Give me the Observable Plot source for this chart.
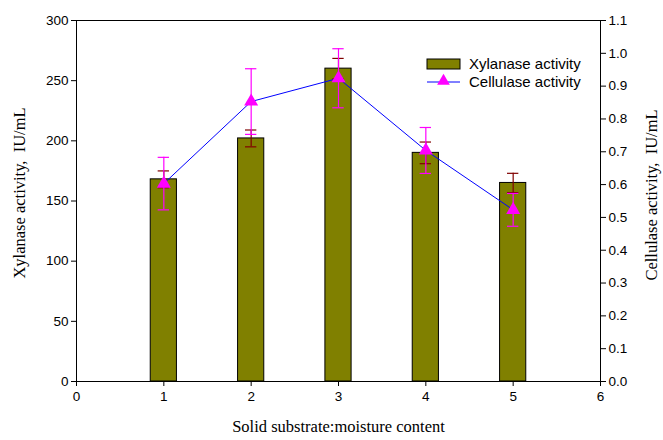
<!DOCTYPE html>
<html>
<head>
<meta charset="utf-8">
<script src="https://cdn.jsdelivr.net/npm/d3@7"></script>
<script src="https://cdn.jsdelivr.net/npm/@observablehq/plot@0.6"></script>
<style>
  html, body { margin: 0; padding: 0; background: #fff; }
</style>
</head>
<body>
<div id="chart"></div>
<script>
// ---- data ----
const ratios = [1, 2, 3, 4, 5];
const xylanase = [168, 202, 260, 190, 165];
const xylanaseErr = [7, 7, 8.5, 9, 8];
const cellulase = [0.603, 0.853, 0.924, 0.704, 0.523];
const cellulaseErr = [0.08, 0.10, 0.09, 0.07, 0.05];
const xTicks = [0, 1, 2, 3, 4, 5, 6];
const yLeftTicks = [0, 50, 100, 150, 200, 250, 300];
const yRightTicks = [0, 0.1, 0.2, 0.3, 0.4, 0.5, 0.6, 0.7, 0.8, 0.9, 1.0, 1.1];

const leftMax = 300, rightMax = 1.1;
const toLeft = v => v * leftMax / rightMax;

const bars = ratios.map((r, i) => ({x: r, v: xylanase[i], e: xylanaseErr[i]}));
const cells = ratios.map((r, i) => ({x: r, v: toLeft(cellulase[i]), lo: toLeft(cellulase[i] - cellulaseErr[i]), hi: toLeft(cellulase[i] + cellulaseErr[i])}));

const halfBar = 0.15, cap = 0.065;
const serif = "'Liberation Serif', 'Times New Roman', serif";

const plot = Plot.plot({
  width: 663,
  height: 440,
  marginLeft: 76,
  marginRight: 63,
  marginTop: 20,
  marginBottom: 59,
  style: {fontFamily: "'Liberation Sans', Arial, sans-serif", fontSize: "13.5px", color: "#000", background: "#fff"},
  x: {domain: [0, 6]},
  y: {domain: [0, leftMax]},
  marks: [
    Plot.rectY(bars, {x1: d => d.x - halfBar, x2: d => d.x + halfBar, y1: 0, y2: "v", fill: "#808000", stroke: "#000", strokeWidth: 1}),
    // xylanase error bars
    Plot.ruleX(bars, {x: "x", y1: d => d.v - d.e, y2: d => d.v + d.e, stroke: "#800000", strokeWidth: 1.2}),
    Plot.ruleY(bars, {y: d => d.v + d.e, x1: d => d.x - cap, x2: d => d.x + cap, stroke: "#800000", strokeWidth: 1.2}),
    Plot.ruleY(bars, {y: d => d.v - d.e, x1: d => d.x - cap, x2: d => d.x + cap, stroke: "#800000", strokeWidth: 1.2}),
    // cellulase line
    Plot.line(cells, {x: "x", y: "v", stroke: "#0000ff", strokeWidth: 1}),
    Plot.ruleX(cells, {x: "x", y1: "lo", y2: "hi", stroke: "#ff00ff", strokeWidth: 1.2}),
    Plot.ruleY(cells, {y: "hi", x1: d => d.x - cap, x2: d => d.x + cap, stroke: "#ff00ff", strokeWidth: 1.2}),
    Plot.ruleY(cells, {y: "lo", x1: d => d.x - cap, x2: d => d.x + cap, stroke: "#ff00ff", strokeWidth: 1.2}),
    Plot.dot(cells, {x: "x", y: "v", symbol: "triangle", r: 5.2, fill: "#ff00ff", stroke: "none"}),
    // frame & axes
    Plot.frame({stroke: "#000", strokeWidth: 1}),
    Plot.axisX(xTicks, {anchor: "bottom", tickSize: 5, tickPadding: 5, label: null, tickFormat: d => String(d)}),
    Plot.axisY(yLeftTicks, {anchor: "left", tickSize: 5, tickPadding: 3, label: null, tickFormat: d => String(d)}),
    Plot.axisY(yRightTicks.map(toLeft), {anchor: "right", tickSize: 5, tickPadding: 3, label: null, tickFormat: d => (d * rightMax / leftMax).toFixed(1)}),
    // axis titles
    Plot.text(["Xylanase activity,  IU/mL"], {frameAnchor: "left", textAnchor: "middle", dx: -57, dy: -8, rotate: -90, fontFamily: serif, fontSize: 16.5, fill: "#000"}),
    Plot.text(["Cellulase activity,  IU/mL"], {frameAnchor: "right", textAnchor: "middle", dx: 51, dy: -6, rotate: -90, fontFamily: serif, fontSize: 16.5, fill: "#000"}),
    Plot.text(["Solid substrate:moisture content"], {frameAnchor: "bottom", dy: 50, fontFamily: serif, fontSize: 16.5, fill: "#000"})
  ]
});

document.getElementById("chart").appendChild(plot);

// legend
const svg = d3.select(plot);
const lg = svg.append("g").attr("font-family", "'Liberation Sans', Arial, sans-serif").attr("font-size", 15).attr("text-anchor", "start");
lg.append("rect").attr("x", 427).attr("y", 59).attr("width", 33).attr("height", 10).attr("fill", "#808000").attr("stroke", "#000");
lg.append("text").attr("x", 469).attr("y", 64).attr("dy", "0.35em").attr("text-anchor", "start").text("Xylanase activity");
lg.append("line").attr("x1", 427).attr("x2", 460).attr("y1", 82).attr("y2", 82).attr("stroke", "#0000ff");
lg.append("path").attr("d", d3.symbol(d3.symbolTriangle, 70)()).attr("transform", "translate(443.5,81)").attr("fill", "#ff00ff");
lg.append("text").attr("x", 469).attr("y", 82).attr("dy", "0.35em").attr("text-anchor", "start").text("Cellulase activity");
</script>
</body>
</html>
